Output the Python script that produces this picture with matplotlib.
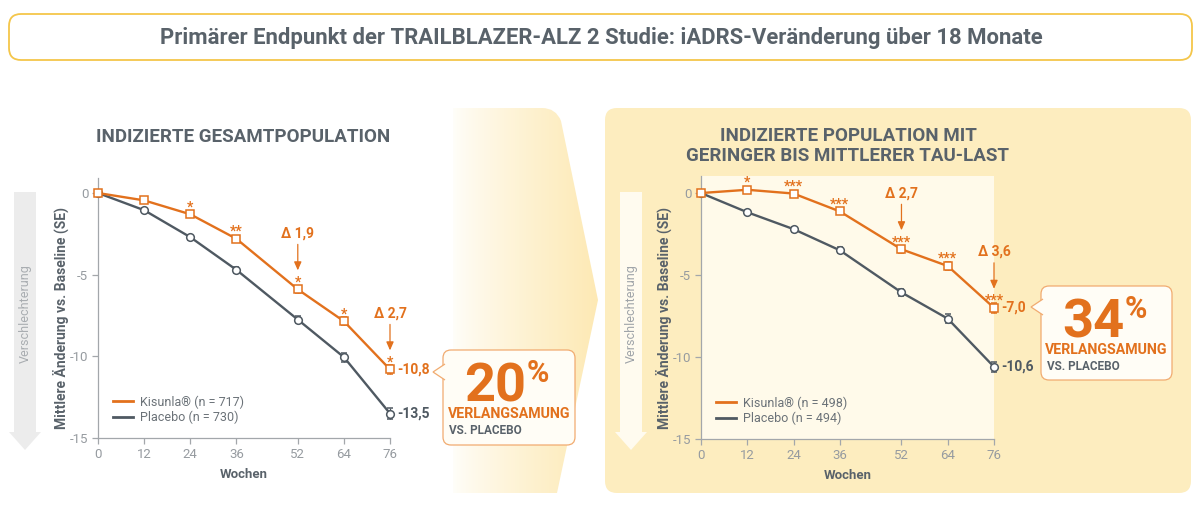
import numpy as np
import matplotlib
matplotlib.use('Agg')
import matplotlib.pyplot as plt
from matplotlib.patches import FancyBboxPatch, Polygon, PathPatch
from matplotlib.path import Path
from matplotlib.lines import Line2D
from matplotlib.transforms import offset_copy
from matplotlib.colors import to_rgb

plt.rcParams['font.family'] = ['Roboto', 'DejaVu Sans']

# Data (iADRS change from baseline)
weeks = [0, 12, 24, 36, 52, 64, 76]

ges_kisunla = [0, -0.45, -1.3, -2.8, -5.9, -7.85, -10.8]
ges_kisunla_se = [0, 0.12, 0.15, 0.18, 0.22, 0.25, 0.3]
ges_placebo = [0, -1.05, -2.7, -4.7, -7.75, -10.05, -13.5]
ges_placebo_se = [0, 0.12, 0.15, 0.18, 0.22, 0.28, 0.32]
ges_stars = ['', '', '*', '**', '*', '*', '*']
ges_delta_weeks = [52, 76]
ges_delta_labels = ['Δ 1,9', 'Δ 2,7']
ges_n = (717, 730)
ges_slowing = 20

tau_kisunla = [0, 0.2, -0.03, -1.12, -3.43, -4.45, -7.0]
tau_kisunla_se = [0, 0.12, 0.15, 0.18, 0.2, 0.25, 0.3]
tau_placebo = [0, -1.17, -2.2, -3.49, -6.06, -7.66, -10.6]
tau_placebo_se = [0, 0.12, 0.15, 0.18, 0.22, 0.26, 0.3]
tau_stars = ['', '*', '***', '***', '***', '***', '***']
tau_delta_weeks = [52, 76]
tau_delta_labels = ['Δ 2,7', 'Δ 3,6']
tau_n = (498, 494)
tau_slowing = 34

ORANGE = '#e2711d'
GREY = '#4f5962'
TEXT = '#59626a'
TICK = '#969ba0'
SPINE = '#a3a7ab'
YELLOW = '#fdedbf'
CREAM = '#fffaea'

W, H = 1202, 518
fig = plt.figure(figsize=(W / 100, H / 100), dpi=100)
bg = fig.add_axes([0, 0, 1, 1], zorder=0)
bg.axis('off')


def px_axes(x0, y0, x1, y1):
    return fig.add_axes([x0 / W, 1 - y1 / H, (x1 - x0) / W, (y1 - y0) / H], zorder=2)


# title box
bg.add_patch(FancyBboxPatch((9, 14), 1183, 46, boxstyle='round,pad=0,rounding_size=12',
                            fc='white', ec='#f4c64a', lw=1.3))
bg.text(601, 38, 'Primärer Endpunkt der TRAILBLAZER-ALZ 2 Studie: iADRS-Veränderung über 18 Monate',
        ha='center', va='center', fontsize=15.9, fontweight='bold', color=TEXT)

# gradient chevron between panels
verts = [(453, 108), (542, 108), (556, 108), (561, 121), (598, 300), (557, 493), (453, 493), (453, 108)]
codes = [Path.MOVETO, Path.LINETO, Path.CURVE3, Path.CURVE3, Path.LINETO, Path.LINETO, Path.LINETO, Path.CLOSEPOLY]
chev = PathPatch(Path(verts, codes), fc='none', ec='none')
bg.add_patch(chev)
g = np.linspace(0, 1, 256) ** 0.8
c0, c1 = np.array(to_rgb('#fffefa')), np.array(to_rgb('#fde9b4'))
grad = (c0[None, :] * (1 - g[:, None]) + c1[None, :] * g[:, None])[None, :, :]
im = bg.imshow(grad, extent=(453, 600, 493, 108), aspect='auto', zorder=0.5)
im.set_clip_path(chev)

# right panel background
bg.add_patch(FancyBboxPatch((605, 108), 586, 385, boxstyle='round,pad=0,rounding_size=12',
                            fc=YELLOW, ec='none'))

# subtitles
bg.text(243, 137, 'INDIZIERTE GESAMTPOPULATION', ha='center', va='center',
        fontsize=13.5, fontweight='bold', color=TEXT)
bg.text(848, 146, 'INDIZIERTE POPULATION MIT\nGERINGER BIS MITTLERER TAU-LAST', ha='center', va='center',
        fontsize=13.5, fontweight='bold', color=TEXT, linespacing=1.2)


def worse_arrow(xc, color, tcolor):
    pts = [(xc - 11, 192), (xc + 11, 192), (xc + 11, 432), (xc + 16, 432), (xc, 450),
           (xc - 16, 432), (xc - 11, 432)]
    bg.add_patch(Polygon(pts, closed=True, fc=color, ec='none'))
    bg.text(xc, 314, 'Verschlechterung', rotation=90, ha='center', va='center',
            fontsize=9, color=tcolor)


worse_arrow(25, '#ececec', '#a9adb1')
worse_arrow(631, '#fffbef', '#9fa4a9')


def callout(x0, y0, x1, y1, tip_y, pct):
    fc, ec = '#fffdf6', '#f1ab70'
    bg.add_patch(FancyBboxPatch((x0, y0), x1 - x0, y1 - y0, boxstyle='round,pad=0,rounding_size=8',
                                fc=fc, ec=ec, lw=0.9, zorder=3))
    bg.add_patch(Polygon([(x0 + 2, tip_y - 8), (x0 - 10, tip_y), (x0 + 2, tip_y + 8)], closed=False,
                         fc=fc, ec=ec, lw=0.9, zorder=4))
    bg.text(x0 + 83, y0 + 51, str(pct), ha='right', va='baseline', fontsize=39,
            fontweight='bold', color=ORANGE, zorder=5)
    bg.text(x0 + 84, y0 + 8, '%', ha='left', va='top', fontsize=22,
            fontweight='bold', color=ORANGE, zorder=5)
    bg.text((x0 + x1) / 2, y0 + 64, 'VERLANGSAMUNG', ha='center', va='center', fontsize=10.2,
            fontweight='bold', color=ORANGE, zorder=5)
    bg.text(x0 + 6, y0 + 80, 'VS. PLACEBO', ha='left', va='center', fontsize=8.5,
            fontweight='bold', color=TEXT, zorder=5)


callout(443, 350, 575, 445, 372, ges_slowing)
callout(1041, 286, 1172, 380, 307, tau_slowing)

bg.set_xlim(0, W)
bg.set_ylim(H, 0)


def fmt(v):
    return f'{v:.1f}'.replace('.', ',')


def panel(ax, kis, kis_se, pla, pla_se, stars, dweeks, dlabels, n, ytop, face):
    ax.set_facecolor(face)
    ax.errorbar(weeks, pla, yerr=pla_se, color=GREY, lw=1.7, marker='o', ms=5.5, mfc='white',
                mec=GREY, mew=1.1, capsize=2, elinewidth=0.9, ecolor=GREY, clip_on=False, zorder=3)
    ax.errorbar(weeks, kis, yerr=kis_se, color=ORANGE, lw=1.7, marker='s', ms=5.5, mfc='white',
                mec=ORANGE, mew=1.1, capsize=2, elinewidth=0.9, ecolor=ORANGE, clip_on=False, zorder=4)
    ax.set_xlim(0, 76)
    ax.set_ylim(-15, ytop)
    ax.set_xticks(weeks)
    ax.set_xticklabels([str(w) for w in weeks])
    ax.set_yticks([0, -5, -10, -15])
    ax.set_yticklabels(['0', '-5', '-10', '-15'])
    for s in ['top', 'right']:
        ax.spines[s].set_visible(False)
    for s in ['left', 'bottom']:
        ax.spines[s].set_color(SPINE)
        ax.spines[s].set_linewidth(0.9)
    ax.tick_params(colors=SPINE, labelcolor=TICK, labelsize=9.5, length=4, width=0.9, pad=3)

    ax.set_ylabel('Mittlere Änderung vs. Baseline (SE)', fontsize=10, fontweight='bold', color=TEXT)
    ax.yaxis.set_label_coords(-0.1, 0.46)
    ax.set_xlabel('Wochen', fontsize=9.5, fontweight='bold', color=TEXT)
    ax.xaxis.set_label_coords(0.5, -0.115)

    for w, v, s in zip(weeks, kis, stars):
        if s:
            t = offset_copy(ax.transData, fig=fig, x=0, y=3, units='dots')
            ax.text(w, v, s, transform=t, ha='center', va='baseline', fontsize=10,
                    fontweight='bold', color=ORANGE, clip_on=False)
    for w, lab in zip(dweeks, dlabels):
        v = kis[weeks.index(w)]
        tip = offset_copy(ax.transData, fig=fig, x=0, y=19, units='dots')
        tail = offset_copy(ax.transData, fig=fig, x=0, y=45, units='dots')
        ax.annotate('', xy=(w, v), xycoords=tip, xytext=(w, v), textcoords=tail,
                    arrowprops=dict(arrowstyle='-|>,head_length=0.5,head_width=0.22',
                                    color=ORANGE, lw=0.9, shrinkA=0, shrinkB=0))
        tt = offset_copy(ax.transData, fig=fig, x=0, y=52, units='dots')
        ax.text(w, v, lab, transform=tt, ha='center', va='baseline', fontsize=10,
                fontweight='bold', color=ORANGE, clip_on=False)

    for vals, col in [(kis, ORANGE), (pla, GREY)]:
        t = offset_copy(ax.transData, fig=fig, x=7, y=0, units='dots')
        ax.text(weeks[-1], vals[-1], fmt(vals[-1]), transform=t, ha='left', va='center',
                fontsize=10, fontweight='bold', color=col, clip_on=False)

    handles = [Line2D([], [], color=ORANGE, lw=2), Line2D([], [], color=GREY, lw=2)]
    labels = [f'Kisunla® (n = {n[0]})', f'Placebo (n = {n[1]})']
    ax.legend(handles, labels, loc='lower left', bbox_to_anchor=(0.02, 0.02), frameon=False,
              fontsize=9, labelcolor='#6b7278', handlelength=1.6, handletextpad=0.6,
              labelspacing=0.15, borderpad=0.2)


ax1 = px_axes(98, 178, 390, 438)
panel(ax1, ges_kisunla, ges_kisunla_se, ges_placebo, ges_placebo_se, ges_stars,
      ges_delta_weeks, ges_delta_labels, ges_n, 0.92, 'none')

ax2 = px_axes(701, 176, 994, 439)
panel(ax2, tau_kisunla, tau_kisunla_se, tau_placebo, tau_placebo_se, tau_stars,
      tau_delta_weeks, tau_delta_labels, tau_n, 1.04, CREAM)

fig.savefig('out.png', dpi=100)
